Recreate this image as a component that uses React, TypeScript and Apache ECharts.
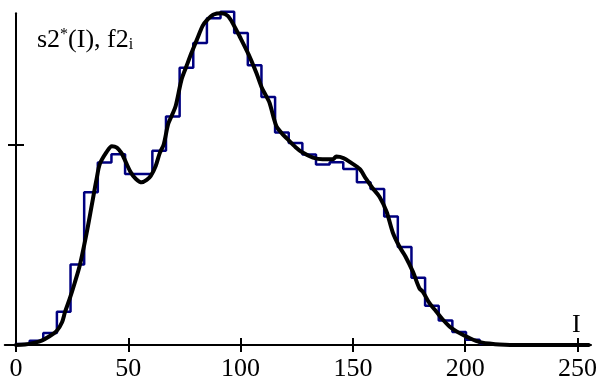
import { useEffect, useRef } from "react";
import * as echarts from "echarts";

// Histogram f2_i : bin width and bin heights (left to right)
const BIN_WIDTH = 255 / 42;
const histHeights = [
  0.00005, 0.00021, 0.0006, 0.00166, 0.00403, 0.00765, 0.00913, 0.00955, 0.00856, 0.00856,
  0.00972, 0.01143, 0.01387, 0.01511, 0.01635, 0.01668, 0.01561, 0.014, 0.01241, 0.01063,
  0.01011, 0.00953, 0.00903, 0.00915, 0.00881, 0.00814, 0.00781, 0.00643, 0.00491, 0.00337,
  0.00196, 0.00123, 0.00065, 0.00026, 0.00007, 0.00002,
];

// Smooth estimate s2*(I)
const curveX = [
  0, 4, 8.4, 11.4, 15.1, 18.1, 20.5, 21.8, 24, 26.2, 28.5, 31.4, 33.7, 34.8, 35.9, 37.3, 40.3,
  42.7, 44.9, 47, 48.9, 51.1, 53.4, 56, 58.2, 60, 62.2, 64, 65.8, 67.7, 69.4, 71.1, 73.7, 75.9,
  78.1, 80.5, 83.1, 84.9, 88, 91.5, 94.3, 96.9, 99.6, 103.6, 107, 109.4, 111.5, 112.9, 115.9,
  118.3, 120.9, 124.5, 127.6, 132.2, 136.5, 141.1, 142.6, 145.8, 149.4, 153, 155.9, 158.7,
  161.9, 165, 167.8, 170.7, 173.4, 176.7, 179.6, 181.1, 184.1, 187.1, 189.9, 193, 195.6, 198.9,
  201.9, 204.8, 207.7, 210.8, 215.2, 220, 255,
];
const curveY = [
  0, 0.000025, 0.00012, 0.00022, 0.00045, 0.0007, 0.00114, 0.00164, 0.00234, 0.00313, 0.00403,
  0.00557, 0.00697, 0.00766, 0.00831, 0.00905, 0.00965, 0.00995, 0.00988, 0.0096, 0.00915,
  0.00864, 0.00831, 0.00814, 0.00826, 0.00846, 0.00896, 0.0096, 0.01005, 0.01104, 0.01149,
  0.01196, 0.01328, 0.01395, 0.01461, 0.01527, 0.01597, 0.01624, 0.01654, 0.0166, 0.01647,
  0.01602, 0.01544, 0.01453, 0.01362, 0.01289, 0.01244, 0.01212, 0.01096, 0.0106, 0.0103,
  0.0099, 0.00963, 0.00938, 0.0093, 0.0093, 0.00943, 0.00935, 0.0091, 0.00881, 0.00831,
  0.00786, 0.00741, 0.00667, 0.00562, 0.00493, 0.00443, 0.00367, 0.00284, 0.00267, 0.00209,
  0.00168, 0.00129, 0.00093, 0.00072, 0.00051, 0.00035, 0.00021, 0.00012, 0.00007, 0.00002, 0,
  0,
];

const xTicks = [0, 50, 100, 150, 200, 250];
const yTicks = [0.01];
const X_MIN = -5;
const X_MAX = 256;
const Y_MAX = 0.0166;

const FONT = "'Liberation Serif', 'Times New Roman', serif";

export default function App() {
  const ref = useRef<HTMLDivElement>(null);

  useEffect(() => {
    document.body.style.margin = "0";
    const chart = echarts.init(ref.current!, null, { renderer: "svg" });

    const histData: number[][] = [[0, 0]];
    histHeights.forEach((h, i) => histData.push([i * BIN_WIDTH, h]));
    histData.push([histHeights.length * BIN_WIDTH, 0]);
    histData.push([255, 0]);
    const curveData = curveX.map((x, i) => [x, curveY[i]]);

    const tickStyle = { color: "#000", width: 2 };
    const xBase = { type: "value", min: X_MIN, max: X_MAX, splitLine: { show: false } };
    const yBase = { type: "value", min: 0, max: Y_MAX, splitLine: { show: false } };

    chart.setOption({
      animation: false,
      grid: { left: 4.76, right: 8.5, top: 13.3, bottom: 33 },
      xAxis: [
        {
          ...xBase,
          position: "bottom",
          axisLine: { show: true, onZero: true, onZeroAxisIndex: 0, lineStyle: { color: "#000", width: 2 } },
          axisTick: { show: true, customValues: xTicks, length: 7, lineStyle: tickStyle },
          axisLabel: { show: true, customValues: xTicks, color: "#000", fontFamily: FONT, fontSize: 26, margin: 9 },
        },
        {
          ...xBase,
          position: "bottom",
          axisLine: { show: false, onZero: true, onZeroAxisIndex: 1 },
          axisTick: { show: true, inside: true, customValues: xTicks, length: 7, lineStyle: tickStyle },
          axisLabel: { show: false },
        },
      ],
      yAxis: [
        {
          ...yBase,
          position: "left",
          axisLine: { show: true, onZero: true, onZeroAxisIndex: 0, lineStyle: { color: "#000", width: 2 } },
          axisTick: { show: true, customValues: yTicks, length: 8, lineStyle: tickStyle },
          axisLabel: { show: false },
        },
        {
          ...yBase,
          position: "left",
          axisLine: { show: false, onZero: true, onZeroAxisIndex: 1 },
          axisTick: { show: true, inside: true, customValues: yTicks, length: 8, lineStyle: tickStyle },
          axisLabel: { show: false },
        },
      ],
      series: [
        {
          type: "line",
          xAxisIndex: 0,
          yAxisIndex: 0,
          data: histData,
          step: "end",
          symbol: "none",
          clip: false,
          z: 2,
          lineStyle: { color: "#000080", width: 2.5 },
        },
        {
          type: "line",
          xAxisIndex: 0,
          yAxisIndex: 0,
          data: curveData,
          smooth: 0.3,
          symbol: "none",
          clip: false,
          z: 3,
          lineStyle: { color: "#000", width: 4, join: "round", cap: "round" },
        },
      ],
      graphic: [
        {
          type: "text",
          x: 37,
          y: 25,
          style: {
            text: "{m|s2}{sup|*}{m|(I), f2}{sub|i}",
            align: "left",
            verticalAlign: "top",
            fill: "#000",
            rich: {
              m: { fontFamily: FONT, fontSize: 26, lineHeight: 26, fill: "#000" },
              sup: { fontFamily: FONT, fontSize: 16, lineHeight: 24, verticalAlign: "top", fill: "#000" },
              sub: { fontFamily: FONT, fontSize: 16, lineHeight: 13, verticalAlign: "bottom", fill: "#000" },
            },
          },
        },
        {
          type: "text",
          x: 572,
          y: 310,
          style: { text: "I", fontFamily: FONT, fontSize: 26, fill: "#000", align: "left", verticalAlign: "top" },
        },
      ],
    });

    return () => chart.dispose();
  }, []);

  return <div ref={ref} style={{ position: "fixed", left: 0, top: 0, width: 600, height: 380 }} />;
}
